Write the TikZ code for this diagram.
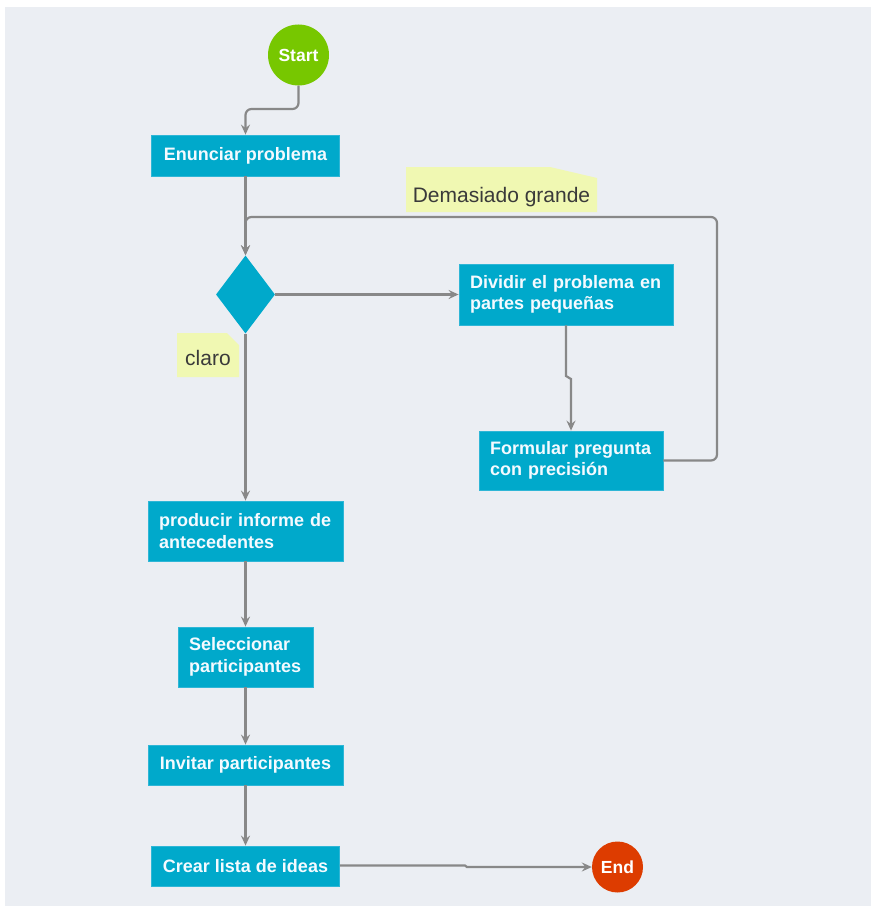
\documentclass[tikz,border=0pt]{standalone}
\usepackage{fontspec}
\setmainfont{Liberation Sans}
\usetikzlibrary{shapes.geometric,arrows.meta}

\definecolor{canvasbg}{HTML}{EBEEF3}
\definecolor{stepfill}{HTML}{00A9CB}
\definecolor{stepline}{HTML}{2FB6D6}
\definecolor{startgreen}{HTML}{77C700}
\definecolor{endred}{HTML}{DD3C00}
\definecolor{notefill}{HTML}{F0F8B2}
\definecolor{notetext}{HTML}{3A3A3A}
\definecolor{flowline}{HTML}{888888}
\definecolor{steptext}{HTML}{F4FAFF}

\begin{document}
\begin{tikzpicture}[x=1pt,y=-1pt,
  flowbox/.style={rectangle, fill=stepfill, draw=stepline, line width=0.8pt,
    text=steptext, font=\fontsize{18}{21.5}\selectfont\bfseries,
    inner xsep=0pt, inner ysep=0pt, align=center},
  flowbox2/.style={flowbox, inner xsep=11pt, align=left},
  termnode/.style={circle, inner sep=0pt, text=white,
    font=\fontsize{17.5}{20}\selectfont\bfseries},
  decision/.style={diamond, fill=stepfill, inner sep=0pt},
  notebox/.style 2 args={rectangle, inner sep=0pt, text=notetext,
    font=\fontsize{21}{24}\selectfont,
    path picture={\fill[notefill]
      (path picture bounding box.north west)
      -- ([xshift=-#1]path picture bounding box.north east)
      -- ([yshift=-#2]path picture bounding box.north east)
      -- (path picture bounding box.south east)
      -- (path picture bounding box.south west) -- cycle;}},
  link/.style={draw=flowline, line width=2.2pt, rounded corners=6pt,
    -{Stealth[length=10pt,width=9pt,inset=3.5pt]}},
  joglink/.style={link, sharp corners}
]
% canvas
\fill[white] (0,0) rectangle (872,907);
\fill[canvasbg] (5,7) rectangle (871,906);

% terminals
\node[termnode, fill=startgreen, minimum size=61pt] (start) at (298.5,55) {Start};
\node[termnode, fill=endred, minimum size=51pt] (finish) at (617.5,867) {End};

% process steps
\node[flowbox, minimum width=188pt, minimum height=41pt] (enun) at (245.5,155.5) {Enunciar problema};
\node[decision, minimum width=59pt, minimum height=78pt] (dec) at (245.5,294.5) {};
\node[flowbox2, text width=192pt, minimum height=61pt] (div) at (566,294.5)
  {Dividir el problema en\\partes pequeñas};
\node[flowbox2, text width=162pt, minimum height=59pt] (form) at (571,460.5)
  {Formular pregunta\\con precisión};
\node[flowbox2, text width=173pt, minimum height=60pt] (prod) at (245.5,531)
  {producir informe de\\antecedentes};
\node[flowbox2, text width=113pt, minimum height=60pt] (sel) at (245.5,657)
  {Seleccionar\\participantes};
\node[flowbox, minimum width=195pt, minimum height=40pt] (inv) at (245.5,765) {Invitar participantes};
\node[flowbox, minimum width=188pt, minimum height=40pt] (crear) at (245.5,866) {Crear lista de ideas};

% branch labels
\node[notebox={47pt}{11pt}, minimum width=191pt, text height=35pt, text depth=10pt]
  (lbig) at (501.5,189.5) {Demasiado grande};
\node[notebox={12pt}{12pt}, minimum width=62pt, text height=32pt, text depth=12pt]
  (lclaro) at (208,355) {claro};

% connectors
\coordinate (startbend) at (298.5,109);
\coordinate (enunbend) at (245.5,109);
\draw[link] (start.south) -- (startbend) -- (enunbend) -- (enun.north);
\draw[link] (enun.south) -- (dec.north);
\draw[link] (dec.east) -- (dec.east -| div.west);

\coordinate (divjog1) at (566,376);
\coordinate (divjog2) at (571,379);
\draw[joglink] (div.south) -- (divjog1) -- (divjog2) -- (form.north);

\coordinate (loopA) at (717,460.5);
\coordinate (loopB) at (717,217);
\coordinate (loopC) at (245.5,217);
\draw[link] (form.east) -- (loopA) -- (loopB) -- (loopC) -- (dec.north);

\draw[link] (dec.south) -- (prod.north);
\draw[link] (prod.south) -- (sel.north);
\draw[link] (sel.south) -- (inv.north);
\draw[link] (inv.south) -- (crear.north);

\coordinate (endjog1) at (465,865.5);
\coordinate (endjog2) at (467,867);
\draw[joglink] (crear.east |- endjog1) -- (endjog1) -- (endjog2) -- (finish.west);
\end{tikzpicture}
\end{document}
